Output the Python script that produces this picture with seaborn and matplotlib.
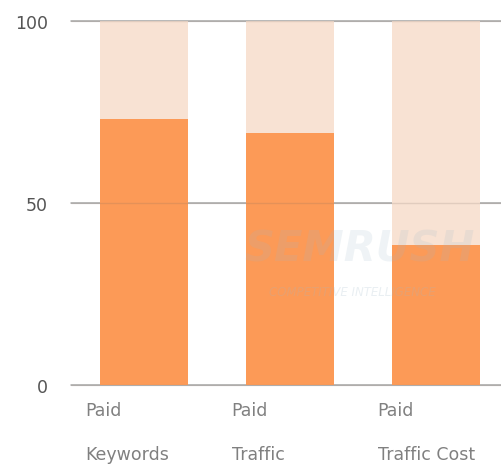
import matplotlib
matplotlib.use("Agg")
import matplotlib.pyplot as plt
import matplotlib.transforms as mtransforms
import seaborn as sns
import pandas as pd

categories = ["Paid\nKeywords", "Paid\nTraffic", "Paid\nTraffic Cost"]
values = [73.1, 69.2, 38.5]
totals = [100, 100, 100]
y_ticks = [0, 50, 100]

sns.set_theme(style="white")
plt.rcParams["font.family"] = ["Liberation Sans Narrow", "DejaVu Sans Condensed", "DejaVu Sans"]

df = pd.DataFrame({"category": categories, "value": values, "total": totals})

fig = plt.figure(figsize=(5.01, 4.77), dpi=100)
ax = fig.add_axes([71 / 501, 1 - 386 / 477, 438 / 501, 364 / 477])

orange = "#FC9A57"
peach = "#F8E2D3"
grid = "#a8a8a8"

sns.barplot(data=df, x="category", y="total", color=peach, saturation=1,
            width=0.6, ax=ax, zorder=2, linewidth=0, edgecolor="none")
sns.barplot(data=df, x="category", y="value", color=orange, saturation=1,
            width=0.6, ax=ax, zorder=3, linewidth=0, edgecolor="none")

ax.set_ylim(0, 100)
ax.set_xlim(-0.5, 2.5)
for s in ax.spines.values():
    s.set_visible(False)
for y in y_ticks:
    ax.axhline(y, color=grid, lw=1.1, zorder=1, clip_on=False)
    ax.axhline(y, color="#7a6a60", lw=1.0, alpha=0.18, zorder=4, clip_on=False)

ax.set_yticks(y_ticks)
ax.set_yticklabels([str(v) for v in y_ticks], color="#555555", fontsize=12.5)
ax.tick_params(axis="y", length=0, pad=16.5)
ax.set_xticks([])
ax.set_xlabel("")
ax.set_ylabel("")

trans = mtransforms.blended_transform_factory(ax.transData, ax.transAxes)
for i, lab in enumerate(categories):
    first, second = lab.split("\n")
    ax.text(i - 0.40, -16 / 364, first, transform=trans, ha="left", va="top",
            color="#808080", fontsize=12.5, clip_on=False)
    ax.text(i - 0.40, -60 / 364, second, transform=trans, ha="left", va="top",
            color="#808080", fontsize=12.5, clip_on=False)

# faint watermark
fig.text(360 / 501, 1 - 250 / 477, "SEMRUSH", ha="center", va="center", fontsize=30,
         fontweight="bold", style="italic", color="#9fb8c8", alpha=0.16, zorder=10)
fig.text(352 / 501, 1 - 292 / 477, "COMPETITIVE INTELLIGENCE", ha="center", va="center",
         fontsize=8.5, style="italic", color="#9fb8c8", alpha=0.22, zorder=10)

fig.savefig("out.png", dpi=100)
